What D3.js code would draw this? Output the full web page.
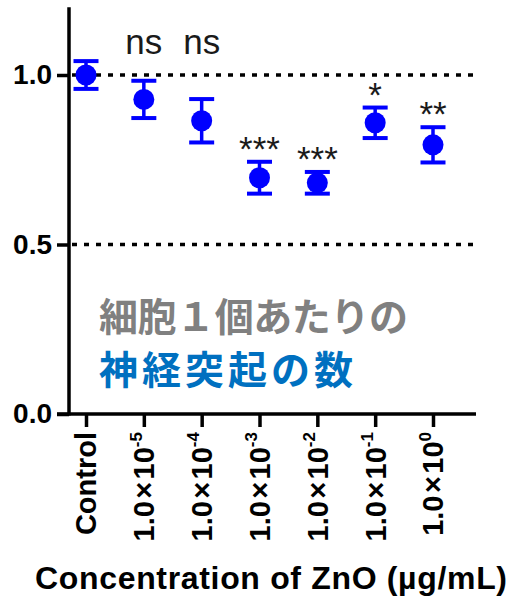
<!DOCTYPE html>
<html>
<head>
<meta charset="utf-8">
<script src="https://cdn.jsdelivr.net/npm/d3@7"></script>
<style>
  body { margin: 0; background: #fff; }
  svg { display: block; }
</style>
</head>
<body>
<svg></svg>
<script>
// data
const categories = ["Control", "1e-5", "1e-4", "1e-3", "1e-2", "1e-1", "1e0"];
const exponents = [null, "-5", "-4", "-3", "-2", "-1", "0"];
const means = [1.0, 0.928, 0.865, 0.697, 0.682, 0.859, 0.794];
const errors = [0.041, 0.055, 0.064, 0.047, 0.032, 0.045, 0.052];
const sigLabels = ["", "ns", "ns", "***", "***", "*", "**"];
const yTicks = [0, 0.5, 1.0];
const refLines = [0.5, 1.0];

const width = 512, height = 605;
const svg = d3.select("svg").attr("width", width).attr("height", height);
const latin = "'Liberation Sans', Arial, sans-serif";
const cjk = "'Noto Sans CJK JP', sans-serif";

const axisX = 69, axisRight = 476, axisY = 414;

const y = d3.scaleLinear().domain([0, 1.2]).range([axisY, axisY - 1.2 * 339]);
const x = d3.scalePoint().domain(categories).range([86, 433]);

// dotted reference lines
svg.selectAll("line.ref")
    .data(refLines)
    .enter().append("line")
    .attr("class", "ref")
    .attr("x1", axisX + 3).attr("x2", 478)
    .attr("y1", d => y(d)).attr("y2", d => y(d))
    .attr("stroke", "#000")
    .attr("stroke-width", 3.5)
    .attr("stroke-dasharray", "5,7");

// y axis
const yAxis = svg.append("g")
    .attr("transform", `translate(${axisX},0)`)
    .call(d3.axisLeft(y).tickValues(yTicks).tickFormat(d3.format(".1f")).tickSize(12).tickPadding(5));
yAxis.select(".domain").attr("d", `M0,${y(1.2)}V${axisY + 1.5}`).attr("stroke-width", 3.5);
yAxis.selectAll(".tick line").attr("stroke-width", 3.5);
yAxis.selectAll(".tick text")
    .attr("font-family", latin).attr("font-size", 28).attr("font-weight", "bold").attr("fill", "#000");

// x axis
const xAxis = svg.append("g")
    .attr("transform", `translate(0,${axisY})`)
    .call(d3.axisBottom(x).tickSize(13).tickFormat(""));
xAxis.select(".domain").attr("d", `M${axisX - 12},0H${axisRight}`).attr("stroke-width", 3.5);
xAxis.selectAll(".tick line").attr("stroke-width", 3.5);

// rotated x tick labels
const labels = svg.append("g").selectAll("text")
    .data(categories)
    .enter().append("text")
    .attr("transform", d => `translate(${x(d)},432) rotate(-90)`)
    .attr("text-anchor", "end")
    .attr("dy", "0.36em")
    .attr("font-family", latin)
    .attr("font-size", 29)
    .attr("font-weight", "bold")
    .attr("fill", "#000");
labels.each(function(d, i) {
    const t = d3.select(this);
    if (exponents[i] === null) {
        t.text(d);
    } else {
        t.append("tspan").text("1.0\u200A×\u200A10");
        t.append("tspan").attr("font-size", 17).attr("dy", "-0.75em").text(exponents[i]);
    }
});

// error bars
const pts = svg.append("g").selectAll("g")
    .data(means)
    .enter().append("g")
    .attr("transform", (d, i) => `translate(${x(categories[i])},0)`);

pts.append("line")
    .attr("y1", (d, i) => y(d + errors[i]))
    .attr("y2", (d, i) => y(d - errors[i]))
    .attr("stroke", "#0000ff").attr("stroke-width", 3.5);
pts.append("line")
    .attr("x1", -12.5).attr("x2", 12.5)
    .attr("y1", (d, i) => y(d + errors[i])).attr("y2", (d, i) => y(d + errors[i]))
    .attr("stroke", "#0000ff").attr("stroke-width", 4);
pts.append("line")
    .attr("x1", -12.5).attr("x2", 12.5)
    .attr("y1", (d, i) => y(d - errors[i])).attr("y2", (d, i) => y(d - errors[i]))
    .attr("stroke", "#0000ff").attr("stroke-width", 4);
pts.append("circle")
    .attr("cy", d => y(d))
    .attr("r", 10.5)
    .attr("fill", "#0000ff");

// significance marks
pts.append("text")
    .attr("text-anchor", "middle")
    .attr("font-family", latin)
    .attr("fill", "#1a1a1a")
    .attr("font-size", 35)
    .attr("y", (d, i) => sigLabels[i] === "ns" ? y(1.0) - 21 : y(d + errors[i]) - 1)
    .text((d, i) => sigLabels[i]);

// annotation text
svg.append("text")
    .attr("x", 99).attr("y", 331)
    .attr("font-family", cjk).attr("font-size", 39).attr("font-weight", "bold")
    .attr("fill", "#808080")
    .attr("textLength", 309).attr("lengthAdjust", "spacing")
    .text("細胞１個あたりの");
svg.append("text")
    .attr("x", 99).attr("y", 384)
    .attr("font-family", cjk).attr("font-size", 39).attr("font-weight", "bold")
    .attr("fill", "#0070c0")
    .attr("textLength", 254).attr("lengthAdjust", "spacing")
    .text("神経突起の数");

// x axis title
svg.append("text")
    .attr("x", 35).attr("y", 589)
    .attr("font-family", latin).attr("font-size", 32).attr("font-weight", "bold")
    .attr("fill", "#000")
    .attr("textLength", 472).attr("lengthAdjust", "spacing")
    .text("Concentration of ZnO (µg/mL)");
</script>
</body>
</html>
